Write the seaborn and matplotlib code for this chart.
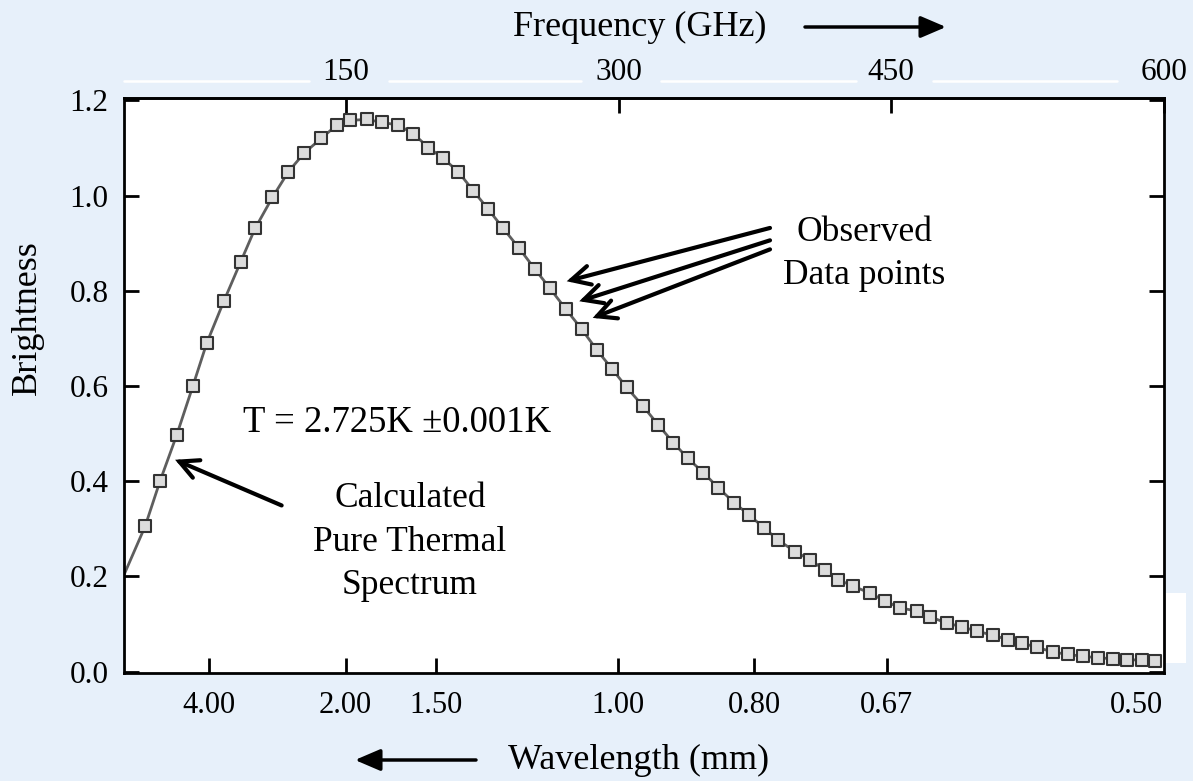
import matplotlib
matplotlib.use("Agg")
import matplotlib.pyplot as plt
from matplotlib.lines import Line2D
from matplotlib.patches import Rectangle, FancyArrowPatch
import pandas as pd
import seaborn as sns

# Measured spectrum: frequency (GHz) and relative brightness
freq_ghz = [39.6, 47.8, 57.0, 65.8, 73.5, 83.0, 92.2, 100.1, 109.6, 118.4,
            127.0, 136.4, 145.0, 152.3, 161.5, 169.7, 178.9, 187.1, 195.4, 203.6,
            211.9, 220.1, 228.4, 236.6, 245.4, 254.1, 262.3, 271.1, 279.8, 288.0,
            296.4, 304.5, 313.6, 321.9, 330.1, 338.1, 346.6, 354.9, 363.5, 371.8,
            380.0, 387.9, 397.1, 405.3, 413.6, 420.9, 429.2, 438.3, 446.6, 454.8,
            464.0, 471.3, 480.5, 488.8, 497.0, 506.2, 514.3, 521.8, 530.0, 539.0,
            547.3, 555.5, 563.8, 572.0, 579.7, 588.0, 595.1]
brightness = [0.305, 0.400, 0.497, 0.599, 0.690, 0.779, 0.861, 0.931, 0.996, 1.050,
              1.089, 1.120, 1.148, 1.158, 1.160, 1.154, 1.148, 1.130, 1.101, 1.078,
              1.050, 1.010, 0.971, 0.931, 0.889, 0.845, 0.805, 0.761, 0.719, 0.676,
              0.636, 0.597, 0.557, 0.518, 0.481, 0.448, 0.418, 0.386, 0.355, 0.329,
              0.302, 0.276, 0.252, 0.235, 0.213, 0.193, 0.179, 0.165, 0.148, 0.134,
              0.127, 0.115, 0.102, 0.094, 0.085, 0.076, 0.067, 0.060, 0.051, 0.041,
              0.036, 0.032, 0.029, 0.027, 0.025, 0.024, 0.023]

# Thermal curve starts at the left edge of the frequency range
curve_start_ghz = 28.2
curve_start_level = 0.205

freq_ticks = [150, 300, 450, 600]
wavelength_mm = [4.00, 2.00, 1.50, 1.00, 0.80, 0.67, 0.50]
wavelength_labels = ["4.00", "2.00", "1.50", "1.00", "0.80", "0.67", "0.50"]
brightness_ticks = [0.0, 0.2, 0.4, 0.6, 0.8, 1.0, 1.2]
C_GHZ_MM = 299.792458  # speed of light in GHz*mm

sns.set_theme(style="white")
plt.rcParams["font.family"] = ["Liberation Serif", "DejaVu Serif"]
for key in ("text.color", "axes.labelcolor", "xtick.color", "ytick.color"):
    plt.rcParams[key] = "black"

BG = "#E7F0FA"
W, H = 1193, 781
fig = plt.figure(figsize=(W / 100, H / 100), dpi=100, facecolor=BG)
ax = fig.add_axes([124 / W, 1 - 673 / H, 1040 / W, 575 / H])
ax.set_facecolor("white")

pts = pd.DataFrame({"freq": freq_ghz, "level": brightness})
curve = pd.DataFrame({"freq": [curve_start_ghz] + freq_ghz,
                      "level": [curve_start_level] + brightness})

sns.lineplot(data=curve, x="freq", y="level", ax=ax, color="#5e5e5e",
             linewidth=2.0, zorder=2)
sns.scatterplot(data=pts, x="freq", y="level", ax=ax, marker="s", s=66,
                facecolor="#dcdcdc", edgecolor="#333333", linewidth=1.5,
                zorder=3)

ax.set_xlim(28, 600)
ax.set_ylim(-0.003, 1.205)
ax.set_xlabel("")
ax.set_ylabel("")

# Frame
for sp in ax.spines.values():
    sp.set_color("black")
    sp.set_linewidth(2.0)

# Left / right brightness ticks
ax.set_yticks(brightness_ticks)
ax.set_yticklabels([f"{v:.1f}" for v in brightness_ticks])
ax.tick_params(axis="y", which="major", direction="in", length=11, width=2.0,
               left=True, right=True, labelsize=22.5, pad=11, colors="black")

# Bottom wavelength ticks placed at the matching frequency
ax.set_xticks([C_GHZ_MM / w for w in wavelength_mm])
ax.set_xticklabels(wavelength_labels)
ax.tick_params(axis="x", which="major", direction="in", length=11, width=2.0,
               bottom=True, top=False, labelsize=22, pad=13, colors="black")
last = ax.xaxis.get_major_ticks()[-1]
last.tick1line.set_visible(False)
last.label1.set_horizontalalignment("right")

# Top frequency axis
top = ax.secondary_xaxis("top")
top.set_xticks(freq_ticks)
top.set_xticklabels([str(t) for t in freq_ticks])
top.tick_params(direction="in", length=11, width=2.0, labelsize=22.5, pad=8,
                colors="black")
top.spines["top"].set_linewidth(2.0)

# Axis titles with direction arrows
fig.text(640 / W, 1 - 27 / H, "Frequency (GHz)", ha="center", va="center",
         fontsize=26)
fig.text(639 / W, 1 - 760 / H, "Wavelength (mm)", ha="center", va="center",
         fontsize=26)
fig.text(27 / W, 1 - 318 / H, "Brightness", ha="center", va="center",
         rotation=90, fontsize=26)

arrow_fig = dict(arrowstyle="-|>,head_length=0.7,head_width=0.3", lw=2.5,
                 color="black", shrinkA=0, shrinkB=0)
fig.add_artist(FancyArrowPatch(
    (805 / W, 1 - 27 / H), (946 / W, 1 - 27 / H), transform=fig.transFigure,
    mutation_scale=22, **arrow_fig))
fig.add_artist(FancyArrowPatch(
    (476 / W, 1 - 760 / H), (355 / W, 1 - 760 / H), transform=fig.transFigure,
    mutation_scale=22, **arrow_fig))

# Light strips around the top labels and a patch beside the frame
for x0, x1 in [(124, 309), (389, 581), (661, 856), (933, 1117)]:
    fig.add_artist(Line2D([x0 / W, x1 / W], [1 - 81 / H, 1 - 81 / H],
                          transform=fig.transFigure, color="white", lw=1.8))
fig.add_artist(Rectangle((1166 / W, 1 - 663 / H), 20 / W, 70 / H,
                         transform=fig.transFigure, color="white", lw=0))

# Annotations
ax.text(93.6, 0.504, "T = 2.725K \u00b10.001K", ha="left", va="baseline",
        fontsize=26.5)
for line, yb in [("Calculated", 0.345), ("Pure Thermal", 0.253),
                 ("Spectrum", 0.162)]:
    ax.text(185.3, yb, line, ha="center", va="baseline", fontsize=25.5)
for line, yb in [("Observed", 0.905), ("Data points", 0.815)]:
    ax.text(435.0, yb, line, ha="center", va="baseline", fontsize=25.5)

open_arrow = dict(arrowstyle="->,head_length=0.75,head_width=0.38", lw=3,
                  color="black", shrinkA=0, shrinkB=0, mutation_scale=18,
                  capstyle="round", joinstyle="miter")
ax.annotate("", xy=(56.1, 0.445), xytext=(114.7, 0.349), arrowprops=open_arrow)
for (hx, hy), (tx, ty) in [((271.5, 0.820), (383.3, 0.932)),
                           ((278.4, 0.778), (383.3, 0.906)),
                           ((285.8, 0.743), (383.3, 0.887))]:
    ax.annotate("", xy=(hx, hy), xytext=(tx, ty), arrowprops=open_arrow)

fig.savefig("out.png", dpi=100, facecolor=BG)
